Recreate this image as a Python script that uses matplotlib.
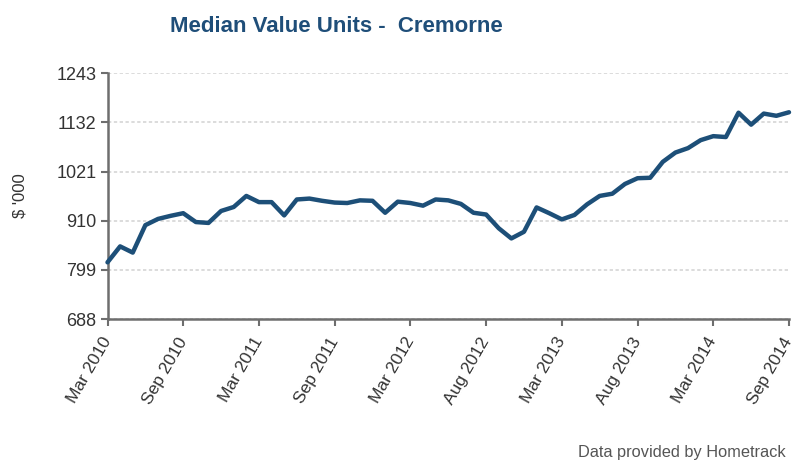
import matplotlib.pyplot as plt
import numpy as np

plt.rcParams['font.family'] = ['Liberation Sans', 'DejaVu Sans']

# monthly median value (thousands), Mar 2010 .. Sep 2014
values = [816, 852, 838, 900, 914, 921, 927, 907, 905, 932,
          941, 966, 952, 952, 922, 958, 960, 955, 951, 950,
          956, 955, 928, 953, 950, 944, 958, 956, 948, 928,
          924, 893, 870, 885, 940, 927, 913, 923, 947, 966,
          971, 993, 1006, 1007, 1043, 1064, 1074, 1092, 1101, 1099,
          1154, 1127, 1152, 1147, 1155]
months = np.arange(len(values))

tick_pos = [0, 6, 12, 18, 24, 30, 36, 42, 48, 54]
tick_labels = ['Mar 2010', 'Sep 2010', 'Mar 2011', 'Sep 2011', 'Mar 2012',
               'Aug 2012', 'Mar 2013', 'Aug 2013', 'Mar 2014', 'Sep 2014']
y_ticks = [688, 799, 910, 1021, 1132, 1243]

fig = plt.figure(figsize=(7.98, 4.61), dpi=100)
ax = fig.add_axes([107.5 / 798, 1 - 319 / 461, (789 - 107.5) / 798, (319 - 73.3) / 461])

ax.plot(months, values, color='#1d4f78', lw=3.2, solid_joinstyle='round',
        solid_capstyle='round', zorder=3, clip_on=False)

ax.set_xlim(0, 54)
ax.set_ylim(688, 1243)
ax.set_yticks(y_ticks)
ax.set_yticklabels([str(v) for v in y_ticks])
ax.set_xticks(tick_pos)
ax.set_xticklabels(tick_labels, rotation=60, ha='right', va='center',
                   rotation_mode='anchor')

ax.grid(axis='y', color='#d6d6d6', linestyle=(0, (2, 1.5)), lw=1.2)
ax.set_axisbelow(True)
for s in ['top', 'right']:
    ax.spines[s].set_visible(False)
for s in ['left', 'bottom']:
    ax.spines[s].set_color('#6e6e6e')
    ax.spines[s].set_linewidth(1.8)
ax.tick_params(axis='both', colors='#6e6e6e', length=5, width=1.5,
               labelcolor='#333333', labelsize=13)
ax.tick_params(axis='x', labelsize=12.5, pad=9)
ax.tick_params(axis='y', pad=3)

fig.text(336 / 798, 1 - 27 / 461, 'Median Value Units -  Cremorne',
         ha='center', va='center', fontsize=16, fontweight='bold', color='#1f4e79')
fig.text(20 / 798, 1 - 196 / 461, "$ '000", rotation=90, ha='center', va='center',
         fontsize=12, color='#333333')
fig.text(786 / 798, 1 - 452 / 461, 'Data provided by Hometrack', ha='right',
         va='center', fontsize=11.8, color='#555555')

fig.savefig('out.png', dpi=100)
